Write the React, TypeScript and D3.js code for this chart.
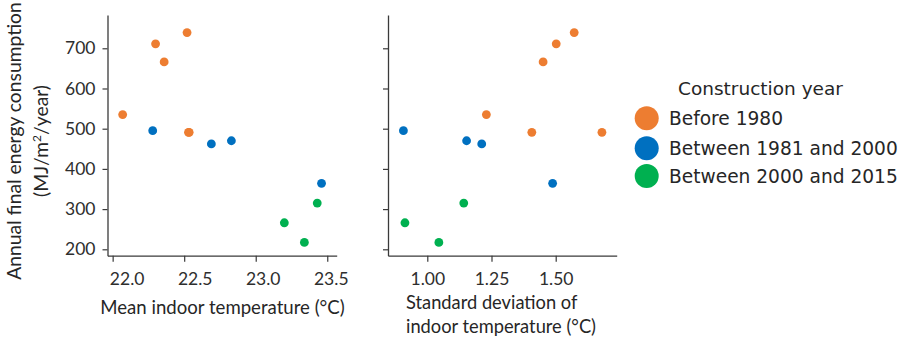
import * as d3 from "d3";
import { useEffect, useRef } from "react";

// construction year groups
const groups = ["Before 1980", "Between 1981 and 2000", "Between 2000 and 2015"];
const colors = ["#ED7D31", "#0070C0", "#00B050"];

// one entry per building
const group = [0, 0, 0, 0, 0, 0, 1, 1, 1, 1, 2, 2, 2];
const meanTemp = [22.52, 22.3, 22.36, 22.07, 22.53, 22.535, 22.28, 22.83, 22.69, 23.46, 23.2, 23.34, 23.43];
const stdTemp = [1.572, 1.502, 1.451, 1.23, 1.407, 1.68, 0.907, 1.153, 1.212, 1.488, 0.913, 1.045, 1.142];
const energy = [739, 711, 666, 535, 491, 491, 495, 470, 462, 364, 266, 217, 315];

const yTicks = [200, 300, 400, 500, 600, 700];
const xTicksLeft = [22.0, 22.5, 23.0, 23.5];
const xTicksRight = [1.0, 1.25, 1.5];

const App = () => {
  const ref = useRef<SVGSVGElement>(null);

  useEffect(() => {
    const svg = d3.select(ref.current);
    svg.selectAll("*").remove();

    const top = 15;
    const bottom = 255.7;

    const y = d3.scaleLinear().domain([184.1, 782.8]).range([bottom, top]);
    const xL = d3.scaleLinear().domain([21.964, 23.566]).range([107.5, 336.7]);
    const xR = d3.scaleLinear().domain([0.847, 1.7375]).range([388, 616.7]);

    const tickFont = "Lato, 'Open Sans', sans-serif";

    const styleAxis = (g: any) => {
      g.select(".domain").attr("stroke", "#3a3a3a").attr("stroke-width", 1.3);
      g.selectAll(".tick line").attr("stroke", "#3a3a3a").attr("stroke-width", 1.2);
      g.selectAll(".tick text")
        .attr("fill", "#2e2e2e")
        .style("font-family", tickFont)
        .style("font-size", "17.5px");
    };

    const panels = [
      { x: xL, vals: meanTemp, ticks: xTicksLeft, fmt: d3.format(".1f"), labels: true, shift: 3.5 },
      { x: xR, vals: stdTemp, ticks: xTicksRight, fmt: d3.format(".2f"), labels: false, shift: 0 },
    ];

    panels.forEach((p) => {
      const left = p.x.range()[0];
      const xa = svg.append("g")
        .attr("transform", `translate(0,${bottom})`)
        .call(d3.axisBottom(p.x).tickValues(p.ticks).tickFormat(p.fmt as any).tickSize(6).tickPadding(11).tickSizeOuter(0))
        .call(styleAxis);
      // the original's left-panel labels sit a little right of their ticks
      xa.selectAll(".tick text").attr("dx", (d: any, i: number) => (p.shift ? 14 - i * p.shift : 0));

      svg.append("g")
        .attr("transform", `translate(${left},0)`)
        .call(
          d3.axisLeft(y).tickValues(yTicks).tickSize(5).tickPadding(7).tickSizeOuter(0)
            .tickFormat((d: any) => (p.labels ? String(d) : ""))
        )
        .call(styleAxis);

      svg.append("g")
        .selectAll("circle")
        .data(energy)
        .enter()
        .append("circle")
        .attr("cx", (d, i) => p.x(p.vals[i]))
        .attr("cy", (d) => y(d))
        .attr("r", 4.4)
        .attr("fill", (d, i) => colors[group[i]]);
    });

    const labelFont = "Lato, 'Open Sans', sans-serif";

    // x labels
    svg.append("text")
      .attr("x", 222.5).attr("y", 314)
      .attr("text-anchor", "middle")
      .style("font-family", labelFont).style("font-size", "18.6px").attr("fill", "#262626")
      .text("Mean indoor temperature (°C)");

    svg.append("text")
      .attr("x", 406).attr("y", 309)
      .style("font-family", labelFont).style("font-size", "18.3px").attr("fill", "#262626")
      .text("Standard deviation of");
    svg.append("text")
      .attr("x", 406).attr("y", 333)
      .style("font-family", labelFont).style("font-size", "18.3px").attr("fill", "#262626")
      .text("indoor temperature (°C)");

    // y label
    const yl = svg.append("text")
      .attr("transform", "translate(0,141) rotate(-90)")
      .attr("text-anchor", "middle")
      .style("font-family", labelFont).style("font-size", "19.3px").attr("fill", "#262626");
    yl.append("tspan").attr("x", 0).attr("y", 21).text("Annual final energy consumption");
    const l2 = yl.append("tspan").attr("x", 0).attr("y", 48);
    l2.append("tspan").text("(MJ/m");
    l2.append("tspan").attr("dy", -7).style("font-size", "12px").text("2");
    l2.append("tspan").attr("dy", 7).text("/year)");

    // legend
    const legendFont = "'DejaVu Sans', sans-serif";
    svg.append("text")
      .attr("x", 678).attr("y", 95)
      .style("font-family", legendFont).style("font-size", "18.5px").attr("fill", "#262626")
      .text("Construction year");

    const ly = [118.3, 148.3, 176];
    groups.forEach((gname, i) => {
      svg.append("circle").attr("cx", 646.7).attr("cy", ly[i]).attr("r", 12).attr("fill", colors[i]);
      svg.append("text")
        .attr("x", 669).attr("y", ly[i] + 6.5)
        .style("font-family", legendFont).style("font-size", "18.6px").attr("fill", "#262626")
        .text(gname);
    });
  }, []);

  return (
    <svg
      ref={ref}
      width={901}
      height={343}
      style={{ position: "absolute", left: 0, top: 0, background: "#fff" }}
    />
  );
};

export default App;
